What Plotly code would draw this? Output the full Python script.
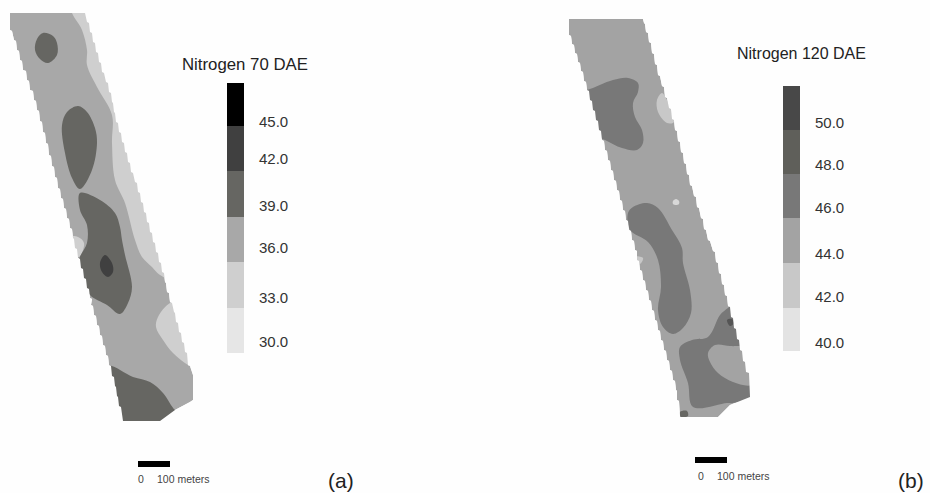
import plotly.graph_objects as go

# ---- field outlines (map coordinates) ----
field_a = [(10,13),(10,30),(12,31),(14,40),(16,41),(17,50),(19,51),(20,60),(22,61),(23,70),(26,71),(27,80),(29,81),(30,90),(33,91),(34,100),(36,101),(37,110),(39,111),(40,121),(42,122),(43,132),(45,133),(46,143),(48,144),(49,155),(51,156),(52,166),(54,167),(55,177),(57,178),(58,188),(60,189),(61,198),(63,199),(64,208),(66,209),(67,218),(69,219),(70,228),(72,229),(73,238),(74,239),(75,248),(77,249),(78,258),(80,259),(81,268),(83,269),(84,278),(86,279),(87,288),(89,289),(90,298),(92,299),(91,305),(93,306),(94,315),(96,316),(97,325),(99,326),(100,335),(102,336),(103,345),(105,346),(106,355),(108,356),(109,365),(111,366),(112,376),(114,377),(115,386),(116,387),(117,396),(118,397),(119,406),(121,407),(123,421),
           (160,421),(175,410),(190,402),(193,400),(193,375),(190,366),(188,365),(187,353),(185,352),(184,343),(182,342),(181,333),(179,332),(178,323),(176,322),(175,313),(174,312),(172,303),(170,302),(169,293),(167,292),(166,283),(165,282),(164,273),(162,272),(161,263),(159,262),(158,253),(156,252),(155,243),(153,242),(152,233),(150,232),(149,223),(147,222),(146,213),(144,212),(143,203),(141,202),(140,193),(138,192),(137,183),(135,182),(133,173),(131,172),(130,163),(128,162),(127,153),(125,152),(124,143),(122,142),(121,133),(119,132),(118,123),(116,122),(115,113),(114,112),(113,103),(112,102),(111,93),(109,92),(108,83),(106,82),(104,73),(102,72),(101,63),(99,62),(98,53),(96,52),(95,43),(93,42),(92,33),(90,32),(89,23),(87,22),(85,13)]

field_b = [(569,19),(569,35),(571,36),(572,44),(574,45),(575,53),(577,54),(578,62),(580,63),(581,71),(583,72),(584,81),(586,82),(587,90),(589,91),(590,100),(592,101),(593,110),(595,111),(596,120),(598,121),(599,130),(601,131),(602,140),(604,141),(605,150),(607,151),(608,160),(610,161),(611,170),(613,171),(614,180),(616,181),(617,190),(619,191),(620,200),(622,201),(623,210),(625,211),(626,220),(628,221),(629,230),(631,231),(632,240),(634,241),(635,250),(637,251),(637,260),(639,261),(640,270),(642,271),(643,280),(645,281),(646,290),(648,291),(649,300),(651,301),(652,310),(654,311),(655,320),(657,321),(658,330),(660,331),(661,340),(663,341),(664,350),(666,351),(667,360),(669,361),(670,370),(672,371),(673,380),(675,381),(676,390),(677,391),(677,400),(679,401),(680,417),
           (718,417),(730,405),(750,397),(749,373),(746,372),(745,362),(743,361),(742,351),(740,350),(739,340),(737,339),(736,329),(734,328),(733,318),(731,317),(730,307),(728,306),(727,296),(725,295),(724,285),(722,284),(721,274),(719,273),(718,263),(716,262),(715,252),(713,251),(710,241),(708,240),(706,230),(704,229),(703,219),(701,218),(699,208),(697,207),(696,197),(694,196),(692,186),(690,185),(689,175),(687,174),(686,164),(684,163),(683,153),(681,152),(680,142),(678,141),(677,131),(675,130),(674,120),(672,119),(671,109),(669,108),(667,98),(665,97),(664,87),(662,86),(660,76),(658,75),(657,65),(655,64),(654,54),(652,53),(651,43),(649,42),(648,33),(646,32),(645,24),(644,23),(643,19)]

# ---- contour zones, panel (a) ----
a_light_strip = [(72,10),(82,30),(87,50),(87,65),(97,87),(112,115),(112,143),(115,180),(125,203),(135,240),(142,257),(152,267),(160,275),(175,280),(142,175),(105,10)]
a_light_patch = [(170,303),(158,317),(156,327),(163,340),(173,353),(188,365),(200,370),(185,300)]
a_light_left = [(70,237),(78,237),(84,243),(79,257),(72,252)]
a_blob_top = [(43,33),(53,36),(57,43),(57,55),(48,63),(40,59),(35,50),(37,39)]
a_blob_mid = [(78,106),(87,112),(95,128),(97,143),(92,170),(80,189),(72,178),(65,153),(62,125),(67,112)]
a_blob_low = [(80,193),(100,200),(115,213),(120,227),(122,240),(125,255),(132,287),(128,303),(120,314),(107,305),(90,295),(82,277),(79,260),(87,243),(87,225),(80,210)]
a_core = [(105,255),(112,263),(113,272),(108,277),(102,272),(100,263)]
a_bottom = [(106,366),(133,377),(150,382),(163,393),(175,410),(180,412),(165,430),(105,430)]

# ---- contour zones, panel (b) ----
b_blob_top = [(575,92),(587,90),(613,80),(628,78),(638,83),(638,92),(633,103),(635,117),(642,130),(643,143),(637,150),(622,148),(605,140),(595,135)]
b_light_spot = [(662,93),(667,100),(674,122),(667,123),(658,112),(657,100)]
b_dot = [(676,199),(679,201),(679,204),(676,205),(673,204),(673,201)]
b_light_left = [(632,257),(643,258),(640,264),(634,263)]
b_blob_mid = [(628,213),(633,207),(647,203),(658,208),(672,230),(682,248),(683,263),(690,290),(691,313),(683,328),(673,334),(663,327),(658,310),(661,287),(658,260),(648,242),(630,230)]
b_blob_low = [(680,347),(692,340),(708,337),(720,315),(728,308),(740,300),(762,350),(762,395),(733,403),(727,403),(693,407),(688,383),(680,360)]
b_inner = [(708,353),(715,345),(730,346),(745,348),(762,372),(752,385),(733,382),(718,373),(710,362)]
b_spot = [(727,320),(732,319),(734,323),(730,326)]
b_corner = [(680,412),(687,411),(688,416),(681,417)]

# ---- legends ----
legend_a_edges = [83,126,171,217,262,308,353]
legend_a_colors = ["#000000","#404040","#666662","#a8a8a8","#cfcfcf","#e6e6e6"]
legend_a_labels = ["45.0","42.0","39.0","36.0","33.0","30.0"]
legend_a_label_y = [121,158,205,247,297,341]
legend_b_edges = [86,130,174,218,263,308,351]
legend_b_colors = ["#484848","#5f5f5a","#787878","#a3a3a3","#c8c8c8","#e3e3e3"]
legend_b_labels = ["50.0","48.0","46.0","44.0","42.0","40.0"]
legend_b_label_y = [122,164,207,253,296,342]

PAPER = "#fefefe"
fig = go.Figure()

def zone(points, color, shape="spline"):
    pts = list(points) + [points[0]]
    fig.add_trace(go.Scatter(x=[p[0] for p in pts], y=[p[1] for p in pts], mode="lines",
                             line=dict(width=0, shape=shape), fill="toself", fillcolor=color,
                             hoverinfo="skip", showlegend=False))

def mask(outline, rect):
    pts = list(outline) + [outline[0]] + rect + [rect[0], outline[0]]
    zone(pts, PAPER, "linear")

def legend(x, width, edges, colors):
    for i, c in enumerate(colors):
        fig.add_trace(go.Bar(x=[x], y=[edges[i+1]-edges[i]], base=[edges[i]], width=[width],
                             marker=dict(color=c, line=dict(width=0)), hoverinfo="skip", showlegend=False))

# panel (a)
zone(field_a, "#a8a8a8", "linear")
zone(a_light_strip, "#cfcfcf")
zone(a_light_patch, "#cfcfcf")
zone(a_light_left, "#cfcfcf")
zone(a_blob_top, "#666662")
zone(a_blob_mid, "#666662")
zone(a_blob_low, "#666662")
zone(a_core, "#404040")
zone(a_bottom, "#666662")
mask(field_a, [(0,0),(215,0),(215,445),(0,445)])

# panel (b)
zone(field_b, "#a3a3a3", "linear")
zone(b_blob_top, "#787878")
zone(b_light_spot, "#c8c8c8")
zone(b_dot, "#d8d8d8")
zone(b_light_left, "#c8c8c8")
zone(b_blob_mid, "#787878")
zone(b_blob_low, "#787878")
zone(b_inner, "#a3a3a3")
zone(b_spot, "#555555")
zone(b_corner, "#666662")
mask(field_b, [(555,0),(775,0),(775,445),(555,445)])

legend(235.5, 17, legend_a_edges, legend_a_colors)
legend(791.5, 17, legend_b_edges, legend_b_colors)

# scale bars
legend(154, 32, [461,467], ["#000000"])
legend(711, 32, [457,463], ["#000000"])

def label(x, y, text, size, color="#222222"):
    fig.add_annotation(x=x, y=y, text=text, showarrow=False, xanchor="left", yanchor="middle",
                       xref="x", yref="y", xshift=0, font=dict(family="Liberation Sans", size=size, color=color))

label(180, 64, "Nitrogen 70 DAE", 16.8)
label(735, 53, "Nitrogen 120 DAE", 16)
for t, y in zip(legend_a_labels, legend_a_label_y):
    label(257, y, t, 15, "#333333")
for t, y in zip(legend_b_labels, legend_b_label_y):
    label(813, y, t, 15, "#333333")
label(136, 479, "0", 10.5, "#444444")
label(155, 479, "100 meters", 10.5, "#444444")
label(696, 476, "0", 10.5, "#444444")
label(715, 476, "100 meters", 10.5, "#444444")
label(326, 480, "(a)", 21)
label(896, 480, "(b)", 21)

fig.update_layout(width=930, height=493, margin=dict(l=0, r=0, t=0, b=0),
                  paper_bgcolor=PAPER, plot_bgcolor=PAPER, barmode="overlay", showlegend=False,
                  xaxis=dict(range=[0,930], visible=False, fixedrange=True),
                  yaxis=dict(range=[493,0], visible=False, fixedrange=True))
fig.write_html("out.html", config={"displayModeBar": False},
               post_script="document.body.style.margin='0';document.body.style.overflow='hidden';")
